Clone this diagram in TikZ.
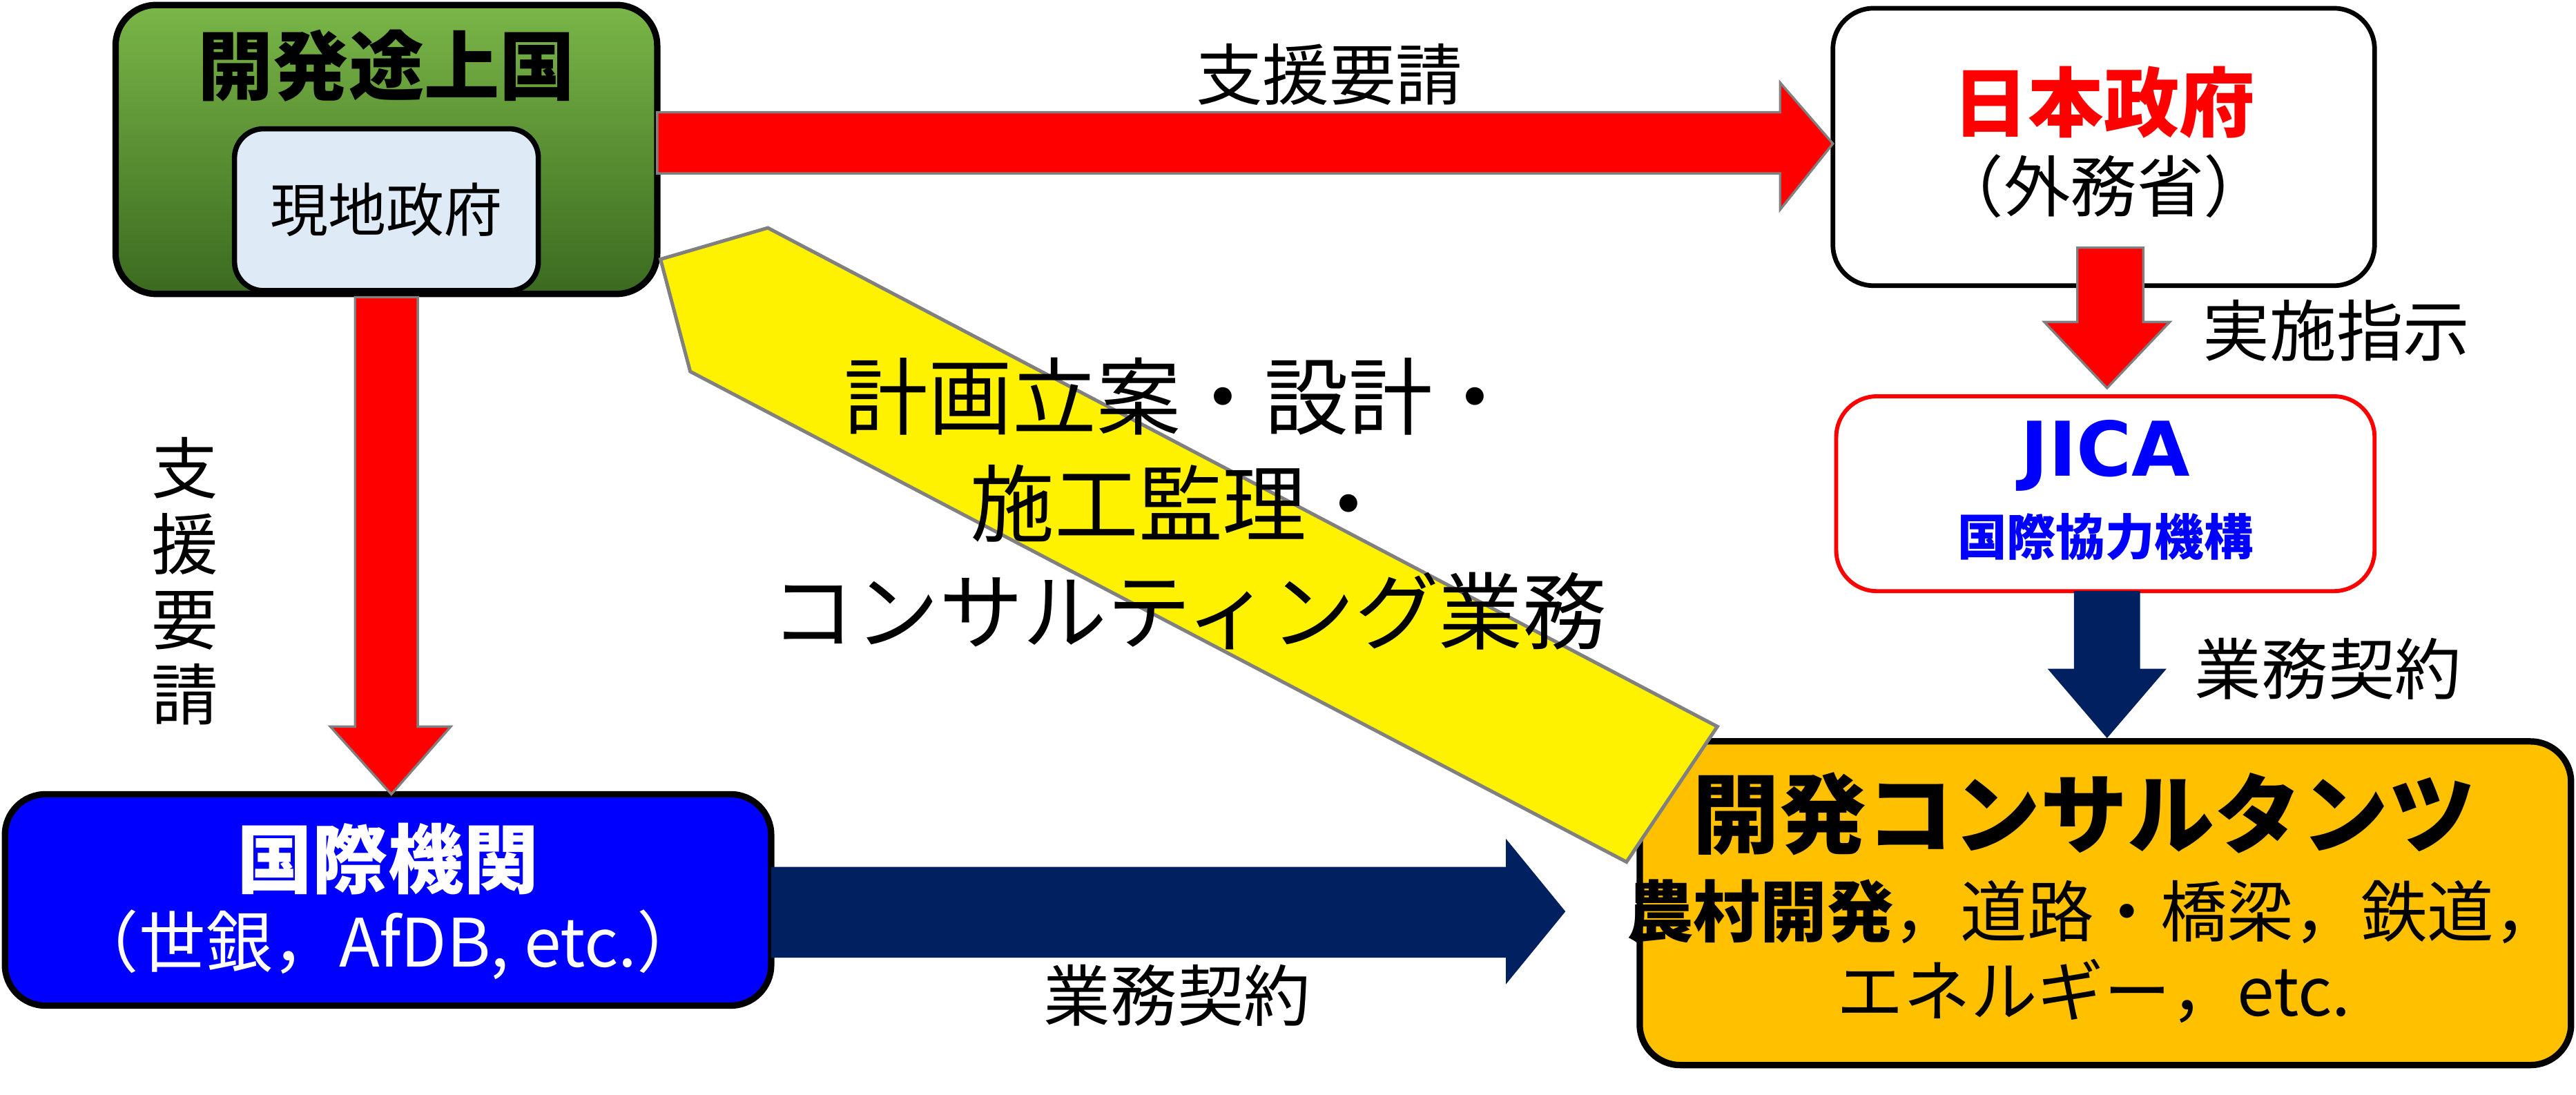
\documentclass[tikz,border=0pt]{standalone}
\usepackage{fontspec}
\setmainfont{Noto Sans CJK JP}
\newfontfamily\latinfont{DejaVu Sans}
\definecolor{navyarr}{HTML}{002060}
\definecolor{consgold}{HTML}{FFC000}
\definecolor{govblue}{HTML}{DEEBF7}
\definecolor{greentop}{HTML}{7AB648}
\definecolor{greenbot}{HTML}{3B6A1F}
\begin{document}
\begin{tikzpicture}[x=0.02cm,y=-0.02cm]
    \tikzset{box/.style={draw=black,line width=2.2pt,rounded corners=14pt},
             lbl/.style={font=\fontsize{23}{26}\selectfont},
             redarr/.style={fill=red,draw=gray,line width=0.8pt},
             navy/.style={fill=navyarr}}
    \useasboundingbox (0,0) rectangle (1560,663);
    % boxes
    \shade[box,top color=greentop,bottom color=greenbot] (70,3) rectangle (398,178);
    \node[font=\fontsize{26}{30}\selectfont\bfseries] (dev) at (234,40) {開発途上国};
    \draw[box,fill=govblue,line width=1.8pt,rounded corners=10pt] (142,78) rectangle (326,176);
    \node[lbl,font=\fontsize{20}{24}\selectfont] (gov) at (234,127) {現地政府};
    \draw[box,fill=white,line width=1.6pt] (1110,5) rectangle (1438,173);
    \node[text=red,font=\fontsize{26}{30}\selectfont\bfseries] (jp) at (1274,62) {日本政府};
    \node[lbl] (mofa) at (1274,113) {（外務省）};
    \draw[box,draw=red,fill=white,line width=1.4pt] (1112,240) rectangle (1438,358);
    \node[text=blue,font=\latinfont\fontsize{26}{30}\selectfont\bfseries] (jica) at (1275,276) {JICA};
    \node[text=blue,font=\fontsize{17}{20}\selectfont\bfseries] (jicaj) at (1275,325) {国際協力機構};
    \draw[box,fill=blue] (3,481) rectangle (467,609);
    \node[text=white,font=\fontsize{26}{30}\selectfont\bfseries] (intl) at (235,520) {国際機関};
    \node[text=white,lbl] (wb) at (235,572) {（世銀，AfDB, etc.）};
    \draw[box,fill=consgold] (993,449) rectangle (1557,645);
    \node[font=\fontsize{30}{34}\selectfont\bfseries] (cons) at (1262,493) {開発コンサルタンツ};
    \node[lbl] (fld1) at (1268,552) {\textbf{農村開発}，道路・橋梁，鉄道，};
    \node[lbl] (fld2) at (1268,600) {エネルギー，etc.};
    % block arrows
    \draw[redarr] (398,68) -- (1078,68) -- (1078,50) -- (1110,87) -- (1078,127) -- (1078,105) -- (398,105) -- cycle;
    \draw[redarr] (1258,150) -- (1298,150) -- (1298,195) -- (1314,195) -- (1276,235) -- (1238,195) -- (1258,195) -- cycle;
    \draw[redarr] (215,180) -- (253,180) -- (253,440) -- (273,440) -- (237,481) -- (200,440) -- (215,440) -- cycle;
    \fill[navy] (1256,358) -- (1296,358) -- (1296,405) -- (1312,405) -- (1276,447) -- (1240,405) -- (1256,405) -- cycle;
    \fill[navy] (467,525) -- (912,525) -- (912,508) -- (948,552) -- (912,596) -- (912,580) -- (467,580) -- cycle;
    \draw[fill=yellow,draw=gray,line width=1.2pt] (400,157) -- (465,138) -- (1040,440) -- (985,522) -- (418,225) -- cycle;
    % labels
    \node[lbl] (req1) at (805,45) {支援要請};
    \node[lbl,align=center,inner sep=0pt] (req2) at (112,352) {支\\援\\要\\請};
    \node[lbl] (ord) at (1415,200) {実施指示};
    \node[lbl] (ctr1) at (1410,405) {業務契約};
    \node[lbl] (ctr2) at (713,603) {業務契約};
    \node[font=\fontsize{29}{33}\selectfont] (work1) at (715,240) {計画立案・設計・};
    \node[font=\fontsize{29}{33}\selectfont] (work2) at (715,305) {施工監理・};
    \node[font=\fontsize{29}{33}\selectfont] (work3) at (720,370) {コンサルティング業務};
\end{tikzpicture}
\end{document}
